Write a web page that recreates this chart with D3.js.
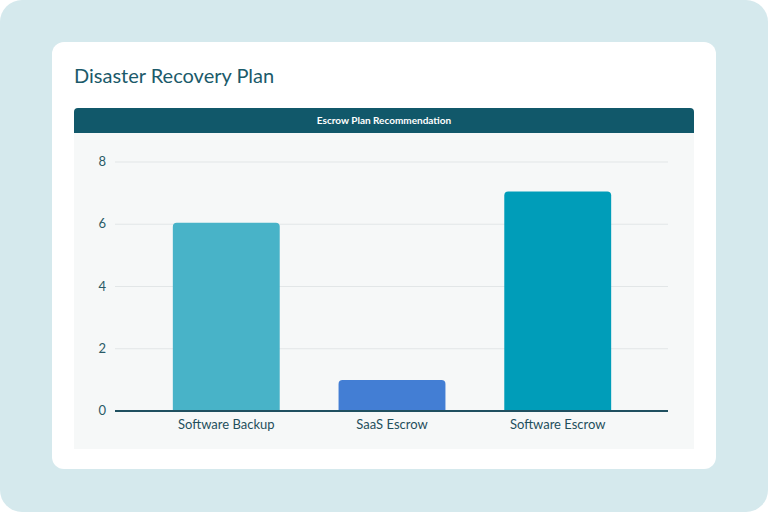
<!DOCTYPE html>
<html><head><meta charset="utf-8">
<script src="https://cdn.jsdelivr.net/npm/d3@7"></script>
<style>body{margin:0;background:#fff}svg{display:block;font-family:Lato,"Noto Sans",sans-serif}</style>
</head><body><svg id="c" width="768" height="512"></svg>
<script>
const categories = ["Software Backup","SaaS Escrow","Software Escrow"];
const values = [6.05, 1, 7.05];
const colors = ["#48b3c8","#437ed4","#009db9"];
const yTicks = [0,2,4,6,8];

const svg = d3.select("#c");
svg.append("rect").attr("width",768).attr("height",512).attr("rx",22).attr("fill","#d5e9ed");
svg.append("rect").attr("x",52).attr("y",42).attr("width",664).attr("height",427).attr("rx",12).attr("fill","#fff");
svg.append("text").attr("x",74).attr("y",83).attr("fill","#1b5a6a").attr("font-size",20).text("Disaster Recovery Plan");
svg.append("path").attr("d","M74,133V112a4,4 0 0 1 4,-4H690a4,4 0 0 1 4,4V133Z").attr("fill","#11586a");
svg.append("text").attr("x",384).attr("y",124).attr("text-anchor","middle").attr("fill","#fff").attr("font-size",10).attr("font-weight","bold").text("Escrow Plan Recommendation");
svg.append("rect").attr("x",74).attr("y",133).attr("width",620).attr("height",316).attr("fill","#f6f8f8");

const y = d3.scaleLinear().domain([0,8]).range([411,162]);
const x = d3.scaleBand().domain(categories).range([143,641]).paddingInner(0.355).paddingOuter(0.18);

const g = svg.append("g");
yTicks.forEach(t=>{
  if(t>0) g.append("line").attr("x1",115).attr("x2",668).attr("y1",y(t)).attr("y2",y(t)).attr("stroke","#e2e6e7");
  g.append("text").attr("x",106).attr("y",y(t)+4).attr("text-anchor","end").attr("fill","#2a5a66").attr("font-size",13).text(t);
});
categories.forEach((c,i)=>{
  const x0=x(c), w=x.bandwidth(), top=y(values[i]), b=y(0), r=4;
  g.append("path").attr("d",`M${x0},${b}V${top+r}a${r},${r} 0 0 1 ${r},${-r}H${x0+w-r}a${r},${r} 0 0 1 ${r},${r}V${b}Z`).attr("fill",colors[i]);
  g.append("text").attr("x",x0+w/2).attr("y",429).attr("text-anchor","middle").attr("fill","#1f4f5c").attr("font-size",13).text(c);
});
g.append("line").attr("x1",115).attr("x2",668).attr("y1",y(0)).attr("y2",y(0)).attr("stroke","#1f5060").attr("stroke-width",2);
</script></body></html>
